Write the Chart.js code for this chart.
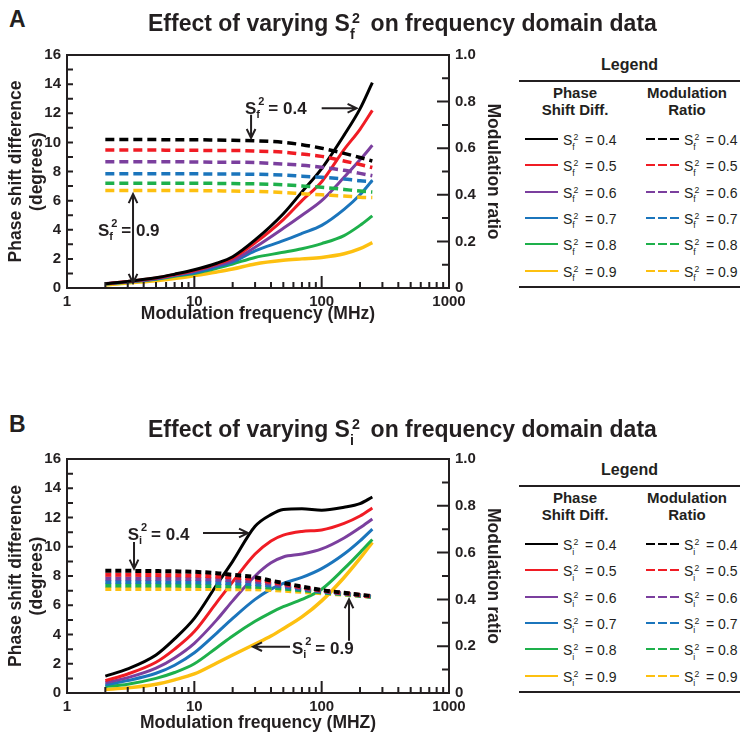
<!DOCTYPE html>
<html>
<head>
<meta charset="utf-8">
<script src="https://cdn.jsdelivr.net/npm/chart.js@4.4.1/dist/chart.umd.min.js"></script>
<style>
  body { margin: 0; background: #fff; font-family: "Liberation Sans", Arial, sans-serif; color: #231f20; }
  #page { position: relative; width: 749px; height: 739px; overflow: hidden; background: #fff; }
  canvas { position: absolute; left: 0; }
  .abs { position: absolute; white-space: nowrap; transform: translateY(-50%); line-height: 1; }
  .ss { display: inline-block; position: relative; width: 0.62em; height: 0; }
  .ss sup, .ss sub { position: absolute; font-size: 0.62em; line-height: 1; }
  .ss sup { left: 0.14em; bottom: 0.38em; }
  .ss sub { left: 0; top: -0.28em; }
</style>
</head>
<body>
<div id="page">
  <canvas id="chartA" width="510" height="290" style="top:40px"></canvas>
  <canvas id="chartB" width="510" height="295" style="top:444px"></canvas>
</div>
<script>
// values
const sqValues = ['0.4', '0.5', '0.6', '0.7', '0.8', '0.9'];
const colors = ['#000000', '#f01c24', '#7b3f9e', '#1b75bc', '#1eb04b', '#fdc010'];

const freqA = [2, 3, 5, 7, 10, 15, 20, 30, 50, 70, 100, 150, 200, 250];
const phaseA = [
  [0.30, 0.45, 0.70, 0.95, 1.25, 1.70, 2.15, 3.30, 5.10, 6.60, 8.20, 10.5, 12.3, 14.1],
  [0.30, 0.44, 0.68, 0.92, 1.20, 1.65, 2.05, 3.10, 4.70, 6.00, 7.30, 9.50, 10.9, 12.2],
  [0.30, 0.43, 0.65, 0.88, 1.15, 1.55, 1.90, 2.80, 4.10, 5.00, 6.00, 7.60, 8.80, 9.80],
  [0.28, 0.42, 0.62, 0.85, 1.05, 1.45, 1.78, 2.55, 3.25, 3.75, 4.30, 5.40, 6.40, 7.40],
  [0.27, 0.40, 0.60, 0.80, 1.00, 1.35, 1.65, 2.10, 2.45, 2.70, 3.05, 3.60, 4.30, 4.95],
  [0.20, 0.35, 0.50, 0.65, 0.85, 1.10, 1.30, 1.65, 1.90, 2.00, 2.10, 2.35, 2.70, 3.12]
];
const ratioA = [
  [0.637, 0.637, 0.637, 0.636, 0.636, 0.635, 0.634, 0.632, 0.625, 0.615, 0.600, 0.578, 0.560, 0.545],
  [0.592, 0.592, 0.592, 0.591, 0.591, 0.590, 0.590, 0.588, 0.583, 0.575, 0.565, 0.545, 0.530, 0.517],
  [0.542, 0.542, 0.542, 0.542, 0.541, 0.540, 0.540, 0.538, 0.532, 0.527, 0.518, 0.505, 0.492, 0.482],
  [0.490, 0.490, 0.490, 0.490, 0.490, 0.489, 0.489, 0.488, 0.485, 0.480, 0.475, 0.468, 0.460, 0.457],
  [0.450, 0.450, 0.450, 0.450, 0.450, 0.449, 0.448, 0.447, 0.443, 0.438, 0.432, 0.423, 0.416, 0.412],
  [0.418, 0.418, 0.418, 0.418, 0.418, 0.417, 0.416, 0.415, 0.410, 0.405, 0.400, 0.395, 0.390, 0.388]
];

const freqB = [2, 3, 5, 7, 10, 15, 20, 30, 40, 50, 70, 100, 150, 200, 250];
const phaseB = [
  [1.15, 1.65, 2.60, 3.70, 5.10, 7.40, 9.00, 11.4, 12.2, 12.55, 12.6, 12.5, 12.7, 12.95, 13.4],
  [0.85, 1.30, 2.10, 3.00, 4.20, 6.20, 7.60, 9.50, 10.4, 10.8, 11.05, 11.15, 11.6, 12.1, 12.65],
  [0.70, 1.05, 1.70, 2.40, 3.40, 5.00, 6.30, 8.00, 8.90, 9.30, 9.50, 9.85, 10.6, 11.3, 11.9],
  [0.55, 0.85, 1.35, 1.90, 2.75, 4.10, 5.10, 6.40, 7.10, 7.50, 7.90, 8.50, 9.50, 10.4, 11.2],
  [0.45, 0.60, 1.00, 1.40, 2.00, 3.10, 3.90, 4.90, 5.50, 5.90, 6.40, 7.10, 8.50, 9.60, 10.5],
  [0.25, 0.35, 0.60, 0.90, 1.30, 2.05, 2.60, 3.35, 3.90, 4.40, 5.20, 6.30, 7.90, 9.20, 10.3]
];
const ratioB = [
  [0.522, 0.522, 0.521, 0.520, 0.518, 0.512, 0.505, 0.495, 0.480, 0.470, 0.455, 0.440, 0.428, 0.420, 0.414],
  [0.505, 0.505, 0.504, 0.503, 0.502, 0.498, 0.494, 0.486, 0.474, 0.466, 0.452, 0.438, 0.427, 0.419, 0.413],
  [0.489, 0.489, 0.488, 0.488, 0.487, 0.485, 0.482, 0.476, 0.467, 0.460, 0.448, 0.436, 0.426, 0.418, 0.412],
  [0.474, 0.474, 0.474, 0.473, 0.473, 0.471, 0.469, 0.465, 0.459, 0.454, 0.444, 0.433, 0.424, 0.417, 0.412],
  [0.459, 0.459, 0.459, 0.459, 0.458, 0.457, 0.456, 0.454, 0.450, 0.446, 0.439, 0.430, 0.422, 0.416, 0.411],
  [0.444, 0.444, 0.444, 0.444, 0.444, 0.444, 0.443, 0.443, 0.440, 0.437, 0.432, 0.426, 0.420, 0.415, 0.410]
];

// annotation positions in data units (x: MHz, y: degrees)
const notesA = [
  {label: '0.4', x: 25, y: 12.34},
  {arrow: [100, 12.34, 188, 12.34]},
  {arrow: [27.9, 11.9, 27.9, 10.3]},
  {arrow: [3.3, 0.35, 3.3, 6.45], both: true},
  {label: '0.9', x: 1.75, y: 4.0}
];
const notesB = [
  {label: '0.4', x: 3.0, y: 10.87},
  {arrow: [11.7, 10.94, 26.4, 10.94]},
  {arrow: [3.36, 10.33, 3.36, 8.5]},
  {label: '0.9', x: 58.5, y: 3.1},
  {arrow: [56.4, 3.17, 28.9, 3.17]},
  {arrow: [164, 3.58, 164, 6.41]}
];

const ink = '#231f20';
const family = '"Liberation Sans", Arial, sans-serif';
Chart.defaults.font.family = family;
Chart.defaults.color = ink;

const page = document.getElementById('page');

function sLabel(sub, val) {
  return 'S<span class="ss"><sup>2</sup><sub>' + sub + '</sub></span> = ' + val;
}

function addText(html, left, cy, css) {
  const d = document.createElement('div');
  d.className = 'abs';
  d.innerHTML = html;
  d.style.left = left + 'px';
  d.style.top = cy + 'px';
  Object.assign(d.style, css || {});
  page.appendChild(d);
  return d;
}

function addBox(left, top, width, height, bg) {
  const d = document.createElement('div');
  Object.assign(d.style, {position: 'absolute', left: left + 'px', top: top + 'px',
    width: width + 'px', height: height + 'px', background: bg});
  page.appendChild(d);
}

function buildLegend(top, sub) {
  const center = {width: '221px', textAlign: 'center', fontWeight: 'bold'};
  addText('Legend', 519, top, Object.assign({fontSize: '16px'}, center));
  addBox(519, top + 15, 221, 2, ink);
  const head = {width: '120px', textAlign: 'center', fontWeight: 'bold', fontSize: '15px'};
  addText('Phase', 515, top + 27, head);
  addText('Shift Diff.', 515, top + 44, head);
  addText('Modulation', 627, top + 27, head);
  addText('Ratio', 627, top + 44, head);
  sqValues.forEach((v, i) => {
    const cy = top + 74 + i * 26.3;
    addBox(525, cy - 1, 33, 2, colors[i]);
    addBox(646, cy - 1, 33, 2,
      'repeating-linear-gradient(to right, ' + colors[i] + ' 0 9px, transparent 9px 12px)');
    addText(sLabel(sub, v), 563, cy + 1, {fontSize: '14px'});
    addText(sLabel(sub, v), 684, cy + 1, {fontSize: '14px'});
  });
  addBox(519, top + 221, 221, 2, ink);
}

function drawS(ctx, x, y, sub, val) {
  const big = 'bold 17px ' + family;
  const small = 'bold 11px ' + family;
  const base = y + 6;
  ctx.font = big;
  ctx.fillText('S', x, base);
  const w = ctx.measureText('S').width;
  ctx.font = small;
  ctx.fillText('2', x + w + 2, base - 9);
  ctx.fillText(sub, x + w, base + 4);
  ctx.font = big;
  ctx.fillText('= ' + val, x + w + 12, base);
}

function head(ctx, x1, y1, x2, y2) {
  const ang = Math.atan2(y2 - y1, x2 - x1);
  const h = 10, spread = 0.45;
  ctx.moveTo(x2 - h * Math.cos(ang - spread), y2 - h * Math.sin(ang - spread));
  ctx.lineTo(x2, y2);
  ctx.lineTo(x2 - h * Math.cos(ang + spread), y2 - h * Math.sin(ang + spread));
}

function drawArrow(ctx, x1, y1, x2, y2, both) {
  ctx.beginPath();
  ctx.moveTo(x1, y1);
  ctx.lineTo(x2, y2);
  head(ctx, x1, y1, x2, y2);
  if (both) head(ctx, x2, y2, x1, y1);
  ctx.stroke();
}

function makePanel(id, freqs, phase, ratio, opts) {
  const datasets = [];
  ratio.forEach((arr, i) => datasets.push({
    data: freqs.map((f, j) => ({x: f, y: arr[j]})),
    yAxisID: 'y1', borderColor: colors[i], borderWidth: opts.dashWidth,
    borderDash: opts.dash, pointRadius: 0, cubicInterpolationMode: 'monotone'
  }));
  phase.forEach((arr, i) => datasets.push({
    data: freqs.map((f, j) => ({x: f, y: arr[j]})),
    yAxisID: 'y', borderColor: colors[i], borderWidth: i === 5 ? 3.5 : 3,
    pointRadius: 0, cubicInterpolationMode: 'monotone'
  }));

  const frame = {
    id: 'frame',
    afterDatasetsDraw(chart) {
      const {ctx, chartArea: a, scales} = chart;
      ctx.save();
      ctx.strokeStyle = ink;
      ctx.lineWidth = 2;
      ctx.strokeRect(a.left, a.top, a.right - a.left, a.bottom - a.top);
      ctx.beginPath();
      for (let d = 1; d <= 1000; d *= 10) {
        for (let k = 1; k < 10; k++) {
          if (d === 1000 && k > 1) break;
          const px = scales.x.getPixelForValue(k * d);
          ctx.moveTo(px, a.bottom);
          ctx.lineTo(px, a.bottom - (k === 1 ? 12 : 6));
        }
      }
      for (let v = 0; v <= 16; v++) {
        const py = scales.y.getPixelForValue(v);
        ctx.moveTo(a.left, py);
        ctx.lineTo(a.left + 6, py);
      }
      for (let v = 0; v <= 10; v++) {
        const py = scales.y1.getPixelForValue(v / 10);
        ctx.moveTo(a.right, py);
        ctx.lineTo(a.right - (v % 2 === 0 ? 12 : 7), py);
      }
      ctx.stroke();

      // annotations
      ctx.lineWidth = 2;
      ctx.fillStyle = ink;
      ctx.textAlign = 'left';
      ctx.textBaseline = 'alphabetic';
      opts.notes.forEach(n => {
        if (n.label) {
          drawS(ctx, scales.x.getPixelForValue(n.x), scales.y.getPixelForValue(n.y), opts.sub, n.label);
        } else {
          const [x1, y1, x2, y2] = n.arrow;
          drawArrow(ctx, scales.x.getPixelForValue(x1), scales.y.getPixelForValue(y1),
            scales.x.getPixelForValue(x2), scales.y.getPixelForValue(y2), n.both);
        }
      });
      ctx.restore();
    }
  };

  const tickFont = {size: 15, weight: 'bold'};
  const titleFont = {size: 17.5, weight: 'bold', lineHeight: 1.22};
  return new Chart(document.getElementById(id), {
    type: 'line',
    data: {datasets},
    plugins: [frame],
    options: {
      responsive: false,
      animation: false,
      devicePixelRatio: 1,
      layout: {padding: {top: 12, left: 0, right: 0, bottom: 0}},
      plugins: {legend: {display: false}, tooltip: {enabled: false}},
      scales: {
        x: {
          type: 'logarithmic', min: 1, max: 1000,
          grid: {display: false, drawTicks: false}, border: {display: false},
          ticks: {
            autoSkip: false, maxRotation: 0, padding: 5, font: tickFont, color: ink,
            callback: v => Math.abs(Math.log10(v) - Math.round(Math.log10(v))) < 1e-9 ? String(Math.round(v)) : ''
          },
          title: {display: true, text: opts.xTitle, font: titleFont, color: ink, padding: {top: 0, bottom: 5}},
          afterFit: s => { s.height = opts.xHeight; }
        },
        y: {
          position: 'left', min: 0, max: 16,
          grid: {display: false, drawTicks: false}, border: {display: false},
          ticks: {stepSize: 2, padding: 6, font: tickFont, color: ink},
          title: {display: true, text: ['Phase shift difference', '(degrees)'], font: titleFont, color: ink, padding: {top: 5}},
          afterFit: s => { s.width = 67; }
        },
        y1: {
          position: 'right', min: 0, max: 1,
          grid: {display: false, drawTicks: false}, border: {display: false},
          ticks: {stepSize: 0.2, padding: 6, font: tickFont, color: ink,
            callback: v => v === 0 ? '0' : v.toFixed(1)},
          title: {display: true, text: 'Modulation ratio', font: titleFont, color: ink, padding: {top: 6}},
          afterFit: s => { s.width = 61; }
        }
      }
    }
  });
}

// headings
const titleCss = {fontWeight: 'bold', fontSize: '23px'};
addText('A', 9, 19, {fontWeight: 'bold', fontSize: '23px'});
addText('Effect of varying S<span class="ss"><sup>2</sup><sub>f</sub></span> on frequency domain data',
  148, 23, titleCss);
addText('B', 9, 424, {fontWeight: 'bold', fontSize: '23px'});
addText('Effect of varying S<span class="ss"><sup>2</sup><sub>i</sub></span> on frequency domain data',
  148, 429, titleCss);

buildLegend(65, 'f');
buildLegend(470, 'i');

makePanel('chartA', freqA, phaseA, ratioA, {
  notes: notesA, sub: 'f', dash: [9, 5], dashWidth: 3.5,
  xTitle: 'Modulation frequency (MHz)', xHeight: 42
});
makePanel('chartB', freqB, phaseB, ratioB, {
  notes: notesB, sub: 'i', dash: [6, 4], dashWidth: 4,
  xTitle: 'Modulation frequency (MHZ)', xHeight: 46
});
</script>
</body>
</html>
